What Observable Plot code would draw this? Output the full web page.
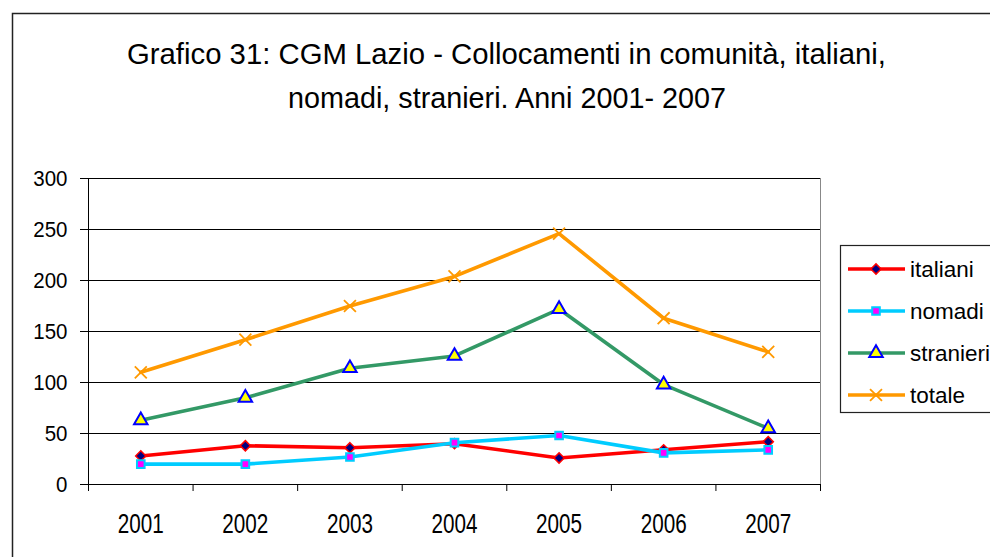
<!DOCTYPE html>
<html>
<head>
<meta charset="utf-8">
<script src="https://cdn.jsdelivr.net/npm/d3@7"></script>
<script src="https://cdn.jsdelivr.net/npm/@observablehq/plot@0.6"></script>
<style>
  html, body { margin: 0; padding: 0; background: #fff; }
  #wrap { position: relative; width: 990px; height: 557px; overflow: hidden; background: #fff; }
  #wrap > svg, #wrap > figure { position: absolute; left: 0; top: 0; margin: 0; }
  #overlay { pointer-events: none; }
</style>
</head>
<body>
<div id="wrap"></div>
<script>
const FONT = "'Liberation Sans', Arial, sans-serif";

const titleLines = ["Grafico 31: CGM Lazio - Collocamenti in comunità, italiani,", "nomadi, stranieri. Anni 2001- 2007"];
const years = [2001, 2002, 2003, 2004, 2005, 2006, 2007];
const yTicks = [0, 50, 100, 150, 200, 250, 300];
const italiani = [28, 38, 36, 40, 26, 34, 42];
const nomadi = [20, 20, 27, 41, 48, 31, 34];
const stranieri = [63, 85, 114, 126, 172, 98, 55];
const totale = [110, 142, 175, 204, 246, 163, 130];
const seriesNames = ["italiani", "nomadi", "stranieri", "totale"];

const styles = {
  italiani: {line: "#ff0000", symbol: "diamond2", fill: "#000080", stroke: "#ff0000", sw: 1.5, r: 4.6},
  nomadi: {line: "#00ccff", symbol: "square", fill: "#ff00ff", stroke: "#00ccff", sw: 2, r: 4.3},
  stranieri: {line: "#339966", symbol: "triangle", fill: "#ffff00", stroke: "#0000ff", sw: 2, r: 5},
  totale: {line: "#ff9900", symbol: "times", fill: "none", stroke: "#ff9900", sw: 1.8, r: 5.5}
};
const valuesByName = {italiani, nomadi, stranieri, totale};

const bounds = d3.range(years.length + 1).map(i => years[0] - 0.5 + i);

const seriesMarks = seriesNames.flatMap(name => {
  const s = styles[name];
  const vals = valuesByName[name];
  return [
    Plot.line(vals, {x: (d, i) => years[i], y: d => d, stroke: s.line, strokeWidth: 3.6}),
    Plot.dot(vals, {x: (d, i) => years[i], y: d => d, symbol: s.symbol, fill: s.fill, stroke: s.stroke, strokeWidth: s.sw, r: s.r})
  ];
});

const chart = Plot.plot({
  width: 990,
  height: 557,
  marginTop: 178,
  marginBottom: 73,
  marginLeft: 88,
  marginRight: 170,
  style: {fontFamily: FONT, fontSize: "22px", color: "#000", background: "transparent", overflow: "visible"},
  x: {type: "linear", domain: [bounds[0], bounds[bounds.length - 1]]},
  y: {domain: [0, 300]},
  marks: [
    Plot.frame({stroke: "#888", strokeWidth: 1}),
    Plot.gridY(yTicks.filter(d => d > 0), {stroke: "#000", strokeOpacity: 1, strokeWidth: 1}),
    Plot.axisY({ticks: yTicks, tickSize: 8, tickPadding: 13, label: null, stroke: "#000", tickFormat: d => String(d)}),
    Plot.axisX({ticks: years, tickSize: 0, tickPadding: 29, label: null, fontSize: 27, tickFormat: d => String(d)}),
    Plot.axisX({ticks: bounds, tickSize: 7, label: null, tickFormat: () => "", stroke: "#000"}),
    Plot.ruleX([bounds[0]], {stroke: "#000"}),
    Plot.ruleY([0], {stroke: "#000"}),
    ...seriesMarks
  ]
});

const wrap = document.getElementById("wrap");
wrap.appendChild(chart);

// condense tick labels to match the narrow face of the original
d3.select(chart).selectAll("g[aria-label='x-axis tick label'] text")
  .attr("textLength", 46).attr("lengthAdjust", "spacingAndGlyphs");
d3.select(chart).selectAll("g[aria-label='y-axis tick label'] text")
  .each(function() {
    const n = this.textContent.length;
    d3.select(this).attr("textLength", n * 11.4).attr("lengthAdjust", "spacingAndGlyphs");
  });

// Overlay: border, title, legend
const svg = d3.select(wrap).append("svg")
  .attr("id", "overlay")
  .attr("width", 990).attr("height", 557)
  .style("font-family", FONT);

svg.append("rect").attr("x", 12.5).attr("y", 13.5).attr("width", 1000).attr("height", 600)
  .attr("fill", "none").attr("stroke", "#222").attr("stroke-width", 1.5);

svg.append("text").attr("x", 127).attr("y", 64)
  .attr("font-size", 29).attr("textLength", 759).attr("lengthAdjust", "spacingAndGlyphs")
  .text(titleLines[0]);
svg.append("text").attr("x", 288).attr("y", 108)
  .attr("font-size", 29).attr("textLength", 438).attr("lengthAdjust", "spacingAndGlyphs")
  .text(titleLines[1]);

const leg = svg.append("g");
leg.append("rect").attr("x", 840.5).attr("y", 245.5).attr("width", 200).attr("height", 167)
  .attr("fill", "#fff").attr("stroke", "#222").attr("stroke-width", 1.2);

const legY = [269, 311, 353, 395];
const symMap = {diamond2: d3.symbolDiamond2, square: d3.symbolSquare, triangle: d3.symbolTriangle, times: d3.symbolTimes};
seriesNames.forEach((name, i) => {
  const s = styles[name];
  const g = leg.append("g").attr("transform", `translate(0,${legY[i]})`);
  g.append("line").attr("x1", 848).attr("x2", 905).attr("y1", 0).attr("y2", 0)
    .attr("stroke", s.line).attr("stroke-width", 3.6);
  g.append("path").attr("transform", "translate(876,0)")
    .attr("d", d3.symbol(symMap[s.symbol], Math.PI * s.r * s.r)())
    .attr("fill", s.fill).attr("stroke", s.stroke).attr("stroke-width", s.sw);
  g.append("text").attr("x", 910).attr("y", 0).attr("dy", "0.35em")
    .attr("font-size", 22.5).text(name);
});
</script>
</body>
</html>
